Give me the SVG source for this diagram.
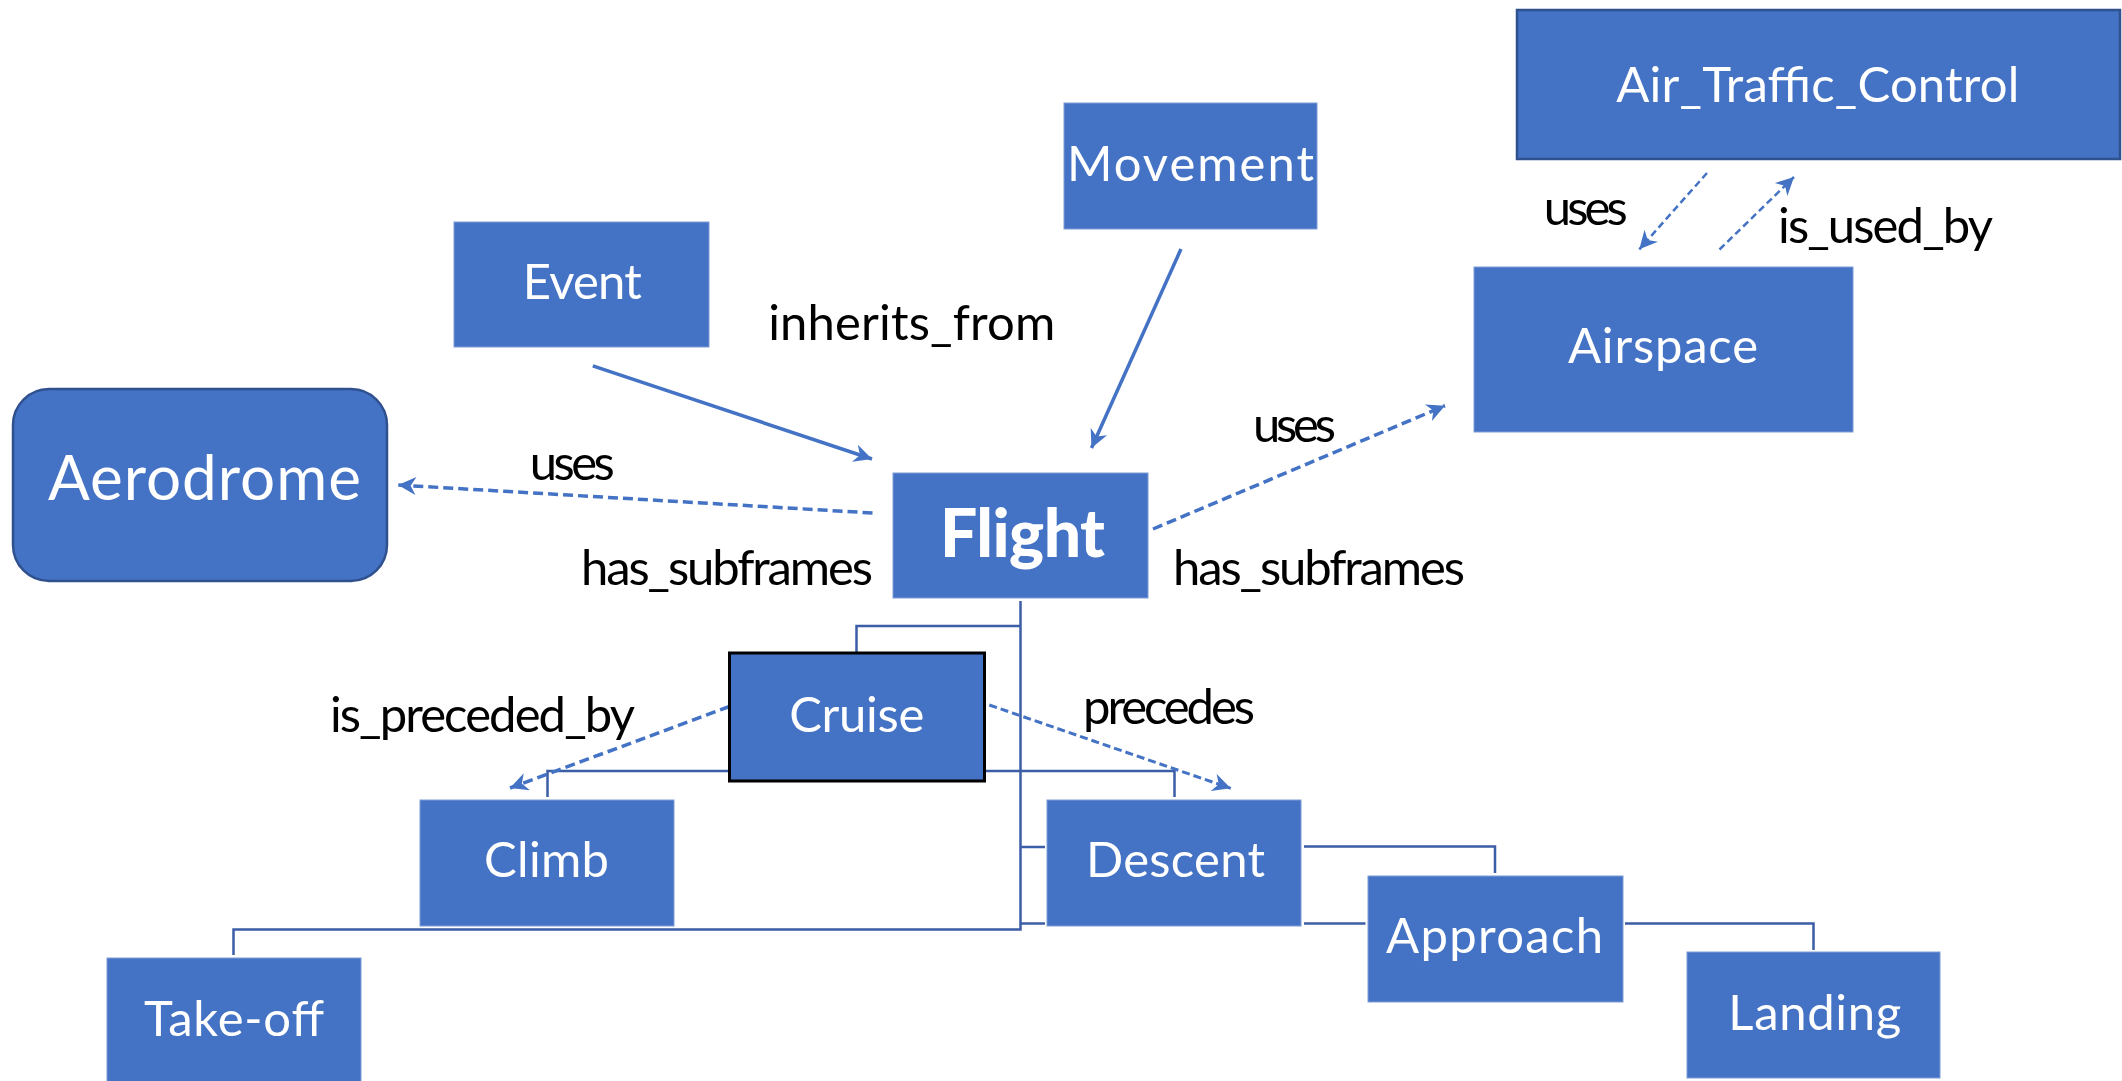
<svg xmlns="http://www.w3.org/2000/svg" width="2122" height="1081" viewBox="0 0 2122 1081">
<defs>
<style>
.box{fill:#4472C4;stroke:#7E9DD6;stroke-width:1}
.dark{stroke:#2F528F;stroke-width:2.5}
.blk{stroke:#000;stroke-width:3}
.t{font-family:Lato,"Open Sans","Liberation Sans",sans-serif;font-size:49px;text-anchor:middle}
.n{fill:#fff}
.l{fill:#000}
.tree{fill:none;stroke:#3B5EA6;stroke-width:2.5}
.sol{fill:none;stroke:#4472C4;stroke-width:3.5}
.dash{fill:none;stroke:#4472C4;stroke-width:3.5;stroke-dasharray:10 5}
.dash2{fill:none;stroke:#4472C4;stroke-width:2.5;stroke-dasharray:7 4}
.dash3{fill:none;stroke:#4472C4;stroke-width:3;stroke-dasharray:8 4}
</style>
<marker id="ah" viewBox="0 0 10 10" refX="10" refY="5" markerUnits="userSpaceOnUse" markerWidth="22" markerHeight="18" orient="auto">
<path d="M0,0 L10,5 L0,10 L3,5 z" fill="#4472C4"/>
</marker>
</defs>
<rect width="2122" height="1081" fill="#fff"/>
<g id="connectors">
<polyline class="tree" points="1020.5,601 1020.5,929.5 233.5,929.5 233.5,955"/>
<polyline class="tree" points="1020.5,626 856.5,626 856.5,652"/>
<polyline class="tree" points="547.5,797 547.5,771 1174.5,771 1174.5,797"/>
<line class="tree" x1="1020.5" y1="847" x2="1045" y2="847"/>
<line class="tree" x1="1020.5" y1="923.5" x2="1045" y2="923.5"/>
<polyline class="tree" points="1304,846.5 1495,846.5 1495,873"/>
<line class="tree" x1="1304" y1="923.5" x2="1365.5" y2="923.5"/>
<polyline class="tree" points="1625,923.5 1813.5,923.5 1813.5,950"/>
<line class="sol" x1="592.8" y1="365.8" x2="872" y2="459" marker-end="url(#ah)"/>
<line class="sol" x1="1181" y1="249" x2="1091.5" y2="448" marker-end="url(#ah)"/>
<line class="dash" x1="872.5" y1="513" x2="398" y2="485" marker-end="url(#ah)"/>
<line class="dash" x1="1153" y1="529" x2="1445" y2="405.7" marker-end="url(#ah)"/>
<line class="dash2" x1="1707" y1="173" x2="1639.3" y2="249.3" marker-end="url(#ah)"/>
<line class="dash2" x1="1719.5" y1="249.5" x2="1794" y2="177" marker-end="url(#ah)"/>
<line class="dash" x1="729.5" y1="706.5" x2="510" y2="788" marker-end="url(#ah)"/>
<line class="dash3" x1="989.3" y1="705" x2="1230.7" y2="788.3" marker-end="url(#ah)"/>
</g>
<g id="node-event"><rect class="box" x="454" y="222" width="255" height="125"/><text class="t n" x="582.3" y="299" textLength="119">Event</text></g>
<g id="node-aerodrome"><rect class="box dark" x="13" y="389" width="374" height="192" rx="36" ry="36"/><text class="t n" x="204.4" y="500" style="font-size:62px" textLength="313">Aerodrome</text></g>
<g id="node-flight"><rect class="box" x="893" y="473" width="255" height="125"/><text class="t n" x="1022.5" y="556.7" style="font-size:66px;font-weight:900" textLength="165">Flight</text></g>
<g id="node-movement"><rect class="box" x="1064" y="103" width="253" height="126"/><text class="t n" x="1190.5" y="181" textLength="247">Movement</text></g>
<g id="node-atc"><rect class="box dark" x="1517" y="10" width="603" height="149"/><text class="t n" x="1817.8" y="102" textLength="403">Air_Traffic_Control</text></g>
<g id="node-airspace"><rect class="box" x="1474" y="267" width="379" height="165"/><text class="t n" x="1663" y="363" textLength="190">Airspace</text></g>
<g id="node-cruise"><rect class="box blk" x="729.5" y="653" width="255" height="128"/><text class="t n" x="856.8" y="732" textLength="135">Cruise</text></g>
<g id="node-climb"><rect class="box" x="420" y="800" width="254" height="126"/><text class="t n" x="546.5" y="877" textLength="125">Climb</text></g>
<g id="node-descent"><rect class="box" x="1047" y="800" width="254" height="126"/><text class="t n" x="1175.5" y="877" textLength="179">Descent</text></g>
<g id="node-approach"><rect class="box" x="1368" y="876" width="255" height="126"/><text class="t n" x="1494.5" y="953" textLength="217">Approach</text></g>
<g id="node-landing"><rect class="box" x="1687" y="952" width="253" height="126"/><text class="t n" x="1814.8" y="1030" textLength="173">Landing</text></g>
<g id="node-takeoff"><rect class="box" x="107" y="958" width="254" height="130"/><text class="t n" x="234" y="1036" textLength="180">Take-off</text></g>
<g id="edge-labels">
<text class="t l" x="911.7" y="340" textLength="287">inherits_from</text>
<text class="t l" x="572.3" y="480" textLength="85">uses</text>
<text class="t l" x="727" y="585" textLength="292">has_subframes</text>
<text class="t l" x="1319" y="585" textLength="292">has_subframes</text>
<text class="t l" x="1294.5" y="442" textLength="83">uses</text>
<text class="t l" x="1585.7" y="225" textLength="84">uses</text>
<text class="t l" x="1885.5" y="243" textLength="215">is_used_by</text>
<text class="t l" x="482.4" y="732" textLength="305">is_preceded_by</text>
<text class="t l" x="1169" y="724" textLength="172">precedes</text>
</g>
</svg>
